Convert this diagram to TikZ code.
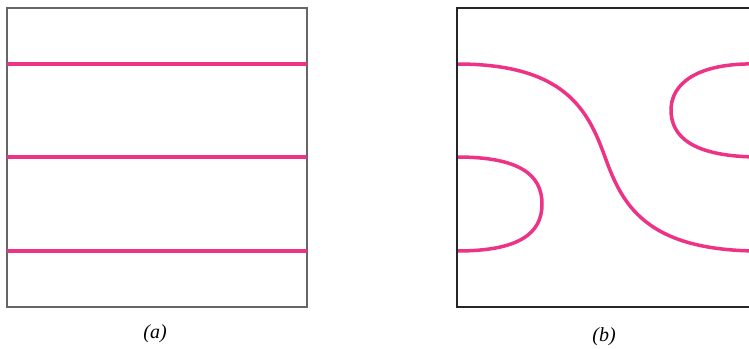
\documentclass[tikz,border=0pt]{standalone}
\usepackage{fontspec}
\setmainfont{Liberation Serif}
\definecolor{lpink}{RGB}{236,51,133}
\begin{document}
\begin{tikzpicture}[x=1pt,y=-1pt,
  frame/.style={draw=black!60,line width=1.2pt},
  curve/.style={draw=lpink,line width=3.5pt},
  lab/.style={font=\itshape\fontsize{20}{22}\selectfont}]
\useasboundingbox (0,0) rectangle (749,348);
\clip (0,0) rectangle (749,348);
% (a)
\draw[frame] (7,8) rectangle (307,307);
\draw[curve] (7,64) -- (307,64);
\draw[curve] (7,157) -- (307,157);
\draw[curve] (7,251) -- (307,251);
\node[lab] (la) at (155,334) {(a)};
% (b)
\draw[curve] (457,64) .. controls (565,64) and (588,110) .. (605,157) .. controls (622,204) and (645,251) .. (760,251);
\draw[curve] (457,157) .. controls (520,157) and (542,175) .. (542,204) .. controls (542,233) and (520,251) .. (457,251);
\draw[curve] (760,64) .. controls (695,62) and (671,85) .. (671,110) .. controls (671,135) and (690,157) .. (760,157);
\draw[frame,draw=black!85] (457,8) rectangle (760,307);
\node[lab] (lb) at (604,337) {(b)};
\end{tikzpicture}
\end{document}
